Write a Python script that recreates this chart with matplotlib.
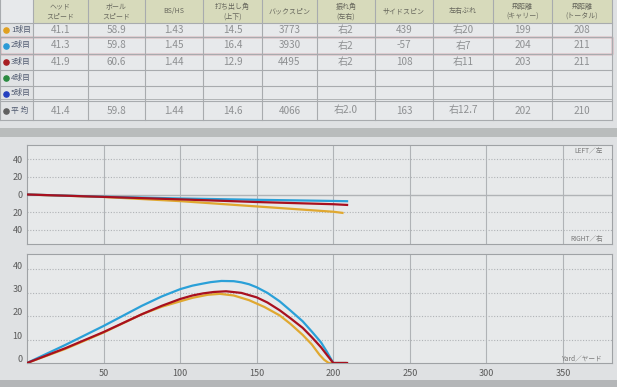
import matplotlib
matplotlib.use("Agg")
import matplotlib.pyplot as plt
import matplotlib.patches as mpatches
import matplotlib.transforms as mtransforms

plt.rcParams['font.family'] = ['Noto Sans CJK JP', 'DejaVu Sans']

# --- table data ---
headers = ["ヘッド\nスピード", "ボール\nスピード", "BS/HS", "打ち出し角\n(上下)", "バックスピン",
           "振れ角\n(左右)", "サイドスピン", "左右ぶれ", "飛距離\n(キャリー)", "飛距離\n(トータル)"]
row_labels = ["1球目", "2球目", "3球目", "4球目", "5球目", "平 均"]
row_colors = ["#e0a020", "#2a9ad6", "#a81e22", "#2a8a40", "#2440c0", "#606060"]

head_speed = ["41.1", "41.3", "41.9", "", "", "41.4"]
ball_speed = ["58.9", "59.8", "60.6", "", "", "59.8"]
smash = ["1.43", "1.45", "1.44", "", "", "1.44"]
launch_v = ["14.5", "16.4", "12.9", "", "", "14.6"]
back_spin = ["3773", "3930", "4495", "", "", "4066"]
launch_h = ["右2", "右2", "右2", "", "", "右2.0"]
side_spin = ["439", "-57", "108", "", "", "163"]
offline = ["右20", "右7", "右11", "", "", "右12.7"]
carry = ["199", "204", "203", "", "", "202"]
total = ["208", "211", "211", "", "", "210"]

# --- trajectory data read from the screen (yards) ---
# side view: height
b_x = [0, 25, 50, 75, 88, 100, 108, 115, 120, 127, 135, 140, 145, 150, 157, 165, 172, 180, 186, 192, 196, 200, 208]
b_h = [0, 7.7, 15.8, 24.4, 28.4, 31.5, 33.0, 33.9, 34.5, 35.0, 34.9, 34.4, 33.6, 32.3, 29.9, 26.3, 22.4, 17.8, 13.4, 8.8, 4.6, 0, 0]
r_x = [0, 25, 50, 75, 88, 100, 108, 115, 122, 130, 140, 150, 157, 165, 172, 180, 186, 192, 196, 200, 209]
r_h = [0, 6.3, 13.2, 20.8, 24.4, 27.3, 28.8, 29.7, 30.3, 30.6, 29.9, 28.0, 25.8, 22.5, 19.1, 15.0, 11.0, 6.7, 3.3, 0, 0]
o_x = [0, 25, 50, 75, 88, 100, 108, 118, 126, 135, 145, 155, 165, 172, 180, 186, 191, 194, 197, 208]
o_h = [0, 6.0, 13.0, 20.8, 24.0, 26.3, 27.8, 29.1, 29.5, 28.8, 26.8, 23.9, 20.3, 16.7, 12.0, 7.9, 3.5, 1.4, 0, 0]

# top view: left(+) / right(-)
b_lx = [0, 50, 100, 150, 200, 209]
b_l = [0, -2.5, -4.5, -6.0, -7.3, -7.6]
r_lx = [0, 50, 100, 150, 200, 209]
r_l = [0, -2.7, -5.5, -8.5, -11.0, -11.8]
o_lx = [0, 50, 100, 150, 200, 206]
o_l = [0, -2.8, -7.5, -13.5, -19.5, -20.8]

x_ticks = [50, 100, 150, 200, 250, 300, 350]

fig = plt.figure(figsize=(6.17, 3.87), dpi=100)
fig.patch.set_facecolor("#dfe1e3")

# background layer in pixel coords for table and bands
bg = fig.add_axes([0, 0, 1, 1])
bg.set_xlim(0, 617)
bg.set_ylim(387, 0)
bg.axis("off")
bg.set_zorder(-1)

col_edges = [0, 33, 88, 145, 203, 262, 317, 375, 433, 493, 552, 612]
row_edges = [0, 23, 37, 54, 69.5, 86, 101, 120]
line_c = "#a8abae"

bg.add_patch(mpatches.Rectangle((0, 0), 612, 120, facecolor="#e7e9eb", edgecolor="none"))
bg.add_patch(mpatches.Rectangle((33, 0), 579, 23, facecolor="#d7dabb", edgecolor="none"))
bg.add_patch(mpatches.Rectangle((0, 23), 33, 97, facecolor="#e1e3e5", edgecolor="none"))
for x in col_edges:
    bg.plot([x, x], [0, 120], color=line_c, lw=0.8)
for y in row_edges[1:]:
    bg.plot([0, 612], [y, y], color=line_c, lw=0.8)
bg.plot([0, 612], [99, 99], color=line_c, lw=0.6)

for i, h in enumerate(headers):
    cx = (col_edges[i + 1] + col_edges[i + 2]) / 2
    bg.text(cx, 11.5, h, ha="center", va="center", fontsize=5.0, color="#66665c", linespacing=1.25)

columns = [head_speed, ball_speed, smash, launch_v, back_spin, launch_h, side_spin, offline, carry, total]
for r, lab in enumerate(row_labels):
    cy = (row_edges[r + 1] + row_edges[r + 2]) / 2
    bg.scatter([6], [cy], s=14, color=row_colors[r], zorder=3)
    bg.text(11, cy, lab, ha="left", va="center", fontsize=5.6, color="#505a70")
    for c, col in enumerate(columns):
        cx = (col_edges[c + 1] + col_edges[c + 2]) / 2
        bg.text(cx, cy, col[r], ha="center", va="center", fontsize=7.2, color="#8e9092")

# highlighted row
bg.add_patch(mpatches.Rectangle((0, 37), 612, 17, facecolor="none", edgecolor="#d26878", lw=1.0))

# separator band
bg.add_patch(mpatches.Rectangle((0, 128), 617, 9, facecolor="#b9bcbc", edgecolor="none"))
bg.add_patch(mpatches.Rectangle((0, 380), 617, 7, facecolor="#b4b6b8", edgecolor="none"))

grid_c = "#b0b3b6"
spine_c = "#9fa2a5"


def style_axes(ax):
    ax.set_facecolor("#e7e9ea")
    for s in ax.spines.values():
        s.set_color(spine_c)
        s.set_linewidth(0.8)
    ax.set_xlim(0, 382)
    ax.set_xticks(x_ticks)
    for xv in x_ticks:
        ax.axvline(xv, color=grid_c, lw=0.8, zorder=1)
    ax.tick_params(length=0, labelsize=6.5, colors="#5a5a5a", pad=3)


# top view
ax1 = fig.add_axes([27 / 617, 1 - 244 / 387, 585 / 617, 99 / 387])
style_axes(ax1)
ax1.set_ylim(-56, 56)
ax1.set_yticks([40, 20, 0, -20, -40])
ax1.set_yticklabels(["40", "20", "0", "20", "40"])
ax1.set_xticklabels([])
for yv in [40, 20, -20, -40]:
    ax1.axhline(yv, color=grid_c, lw=0.8, ls=(0, (1, 1.5)), zorder=1)
ax1.axhline(0, color=grid_c, lw=1.0, zorder=1)
ax1.plot(o_lx, o_l, color="#e0a830", lw=1.6, zorder=3)
ax1.plot(b_lx, b_l, color="#2aa0d8", lw=1.6, zorder=3)
ax1.plot(r_lx, r_l, color="#a8101f", lw=1.6, zorder=4)
ax1.text(376, 49, "LEFT／左", ha="right", va="center", fontsize=4.8, color="#777777")
ax1.text(376, -50, "RIGHT／右", ha="right", va="center", fontsize=4.8, color="#777777")

# side view
ax2 = fig.add_axes([27 / 617, 1 - 363 / 387, 585 / 617, 109 / 387])
style_axes(ax2)
ax2.set_ylim(0, 46.5)
ax2.set_yticks([0, 10, 20, 30, 40])
for yv in [10, 20, 30, 40]:
    ax2.axhline(yv, color=grid_c, lw=0.8, ls=(0, (1, 1.5)), zorder=1)
ax2.plot(o_x, o_h, color="#e0a830", lw=1.6, zorder=3)
ax2.plot(b_x, b_h, color="#2aa0d8", lw=1.6, zorder=3)
ax2.plot(r_x, r_h, color="#a8101f", lw=1.6, zorder=4)
ax2.text(376, 2.0, "Yard／ヤード", ha="right", va="center", fontsize=4.8, color="#777777")
ax2.tick_params(axis="x", pad=4)
shift = mtransforms.ScaledTranslation(0, 3 / 72, fig.dpi_scale_trans)
for lab in ax2.get_yticklabels():
    lab.set_transform(lab.get_transform() + shift)

fig.savefig("out.png", dpi=100, facecolor=fig.get_facecolor())
